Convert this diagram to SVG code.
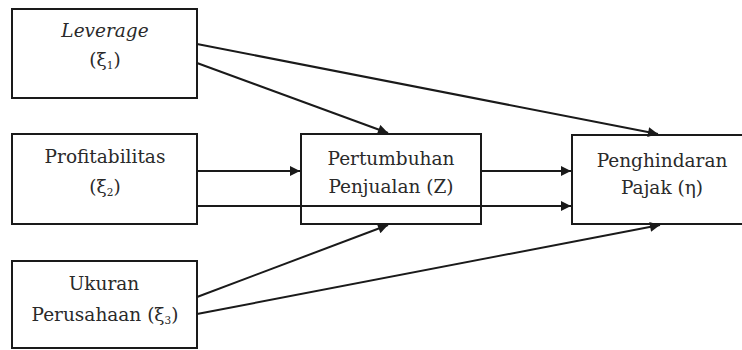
<svg xmlns="http://www.w3.org/2000/svg" width="742" height="350" viewBox="0 0 742 350">
<style>
.box{fill:#fff;stroke:#1a1a1a;stroke-width:2}
.lbl{font-family:"DejaVu Serif","Liberation Serif",serif;font-size:18.5px;fill:#2a2a2a;text-anchor:middle}
.sub{font-size:10.5px}
.conn{stroke:#1a1a1a;stroke-width:2;fill:none;marker-end:url(#ah)}
</style>
<defs>
<marker id="ah" viewBox="0 0 10 10" refX="10" refY="5" markerWidth="6" markerHeight="5" markerUnits="strokeWidth" orient="auto">
<path d="M0,0 L10,5 L0,10 Z" fill="#1a1a1a"/>
</marker>
</defs>
<rect width="742" height="350" fill="#fff"/>
<g id="leverage">
<rect class="box" x="12" y="9" width="185" height="89"/>
<text class="lbl" x="105" y="37" font-style="italic">Leverage</text>
<text class="lbl" x="105" y="66">(ξ<tspan class="sub" dy="3">1</tspan><tspan dy="-3">)</tspan></text>
</g>
<g id="profitabilitas">
<rect class="box" x="12" y="134" width="185" height="90"/>
<text class="lbl" x="105" y="163">Profitabilitas</text>
<text class="lbl" x="105" y="193">(ξ<tspan class="sub" dy="3">2</tspan><tspan dy="-3">)</tspan></text>
</g>
<g id="ukuran">
<rect class="box" x="12" y="261" width="185" height="87"/>
<text class="lbl" x="104" y="290">Ukuran</text>
<text class="lbl" x="105" y="321">Perusahaan (ξ<tspan class="sub" dy="3">3</tspan><tspan dy="-3">)</tspan></text>
</g>
<g id="pertumbuhan">
<rect class="box" x="301" y="134" width="180" height="90"/>
<text class="lbl" x="391" y="165">Pertumbuhan</text>
<text class="lbl" x="391" y="193">Penjualan (Z)</text>
</g>
<g id="penghindaran">
<rect class="box" x="572" y="135" width="185" height="89"/>
<text class="lbl" x="662" y="167">Penghindaran</text>
<text class="lbl" x="662" y="194">Pajak (η)</text>
</g>
<g id="connectors">
<line class="conn" x1="197" y1="44" x2="658" y2="134"/>
<line class="conn" x1="197" y1="63" x2="388" y2="133"/>
<line class="conn" x1="197" y1="171" x2="300" y2="171"/>
<line class="conn" x1="197" y1="206" x2="571" y2="206"/>
<line class="conn" x1="481" y1="171" x2="571" y2="171"/>
<line class="conn" x1="197" y1="297" x2="388" y2="225"/>
<line class="conn" x1="197" y1="314" x2="660" y2="225"/>
</g>
</svg>
